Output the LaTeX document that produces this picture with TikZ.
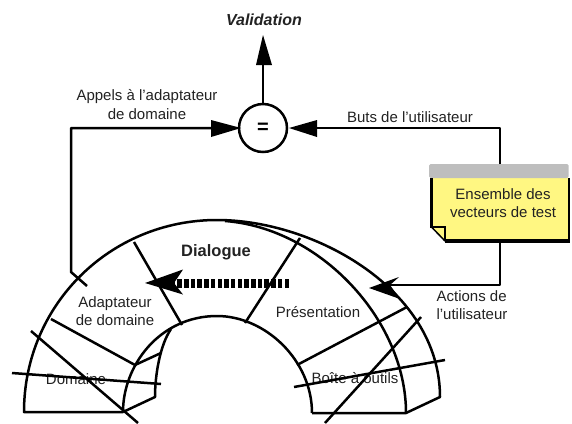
\documentclass[tikz,border=0pt]{standalone}
\usepackage{fontspec}
\setmainfont{Liberation Sans}
\definecolor{noteyellow}{HTML}{FFF782}
\definecolor{notegray}{HTML}{BEBEBE}
\definecolor{txt}{HTML}{222222}
\tikzset{
  lbl/.style={font=\fontsize{15}{18.5}\selectfont,text=txt,align=center,inner sep=0pt},
  wire/.style={line width=2.5pt,line join=round},
  tipfill/.style={fill=black,draw=none}
}
\begin{document}
\begin{tikzpicture}[x=1pt,y=-1pt]
\useasboundingbox (0,0) rectangle (572,423);
% note
\coordinate (wr0) at (500,164);
\coordinate (wr1) at (500,128);
\coordinate (wl1) at (71,128);
\coordinate (wl2) at (71,272);
\coordinate (wl3) at (87,286);
\coordinate (wr4) at (500,241);
\coordinate (wr2) at (500,285);
\coordinate (wr3) at (390,285);
\fill[noteyellow] (431,177) -- (568,177) -- (568,241) -- (445,241) -- (431,227) -- cycle;
\fill[notegray,rounded corners=1.5pt] (429,164) rectangle (568.5,178);
\draw[line width=2.5pt] (431.5,178) -- (431.5,227) -- (445,227) -- (445,241);
\draw[line width=1.5pt] (431.5,227) -- (445,241);
\draw[line width=4pt] (445,241) -- (570,241);
\draw[line width=1.5pt] (569,178) -- (569,241);
\node[lbl] (note) at (503,203) {Ensemble des\\vecteurs de test};
% circle
\node[circle,draw,line width=2.5pt,minimum size=48pt,inner sep=0pt,font=\bfseries\fontsize{20}{20}\selectfont] (eq) at (263,128) {=};
\node[lbl,font=\bfseries\itshape\fontsize{16}{18}\selectfont] (val) at (264,20) {Validation};
% wires
\draw[wire] (eq.north) -- (263,60);
\fill[tipfill] (263,35) -- (272,65) -- (256,65) -- cycle;
\draw[wire] (wl3) -- (wl2) -- (wl1) -- (215,128);
\fill[tipfill] (241,128) -- (211,120) -- (211,137) -- cycle;
\draw[wire] (wr0) -- (wr1) -- (315,128);
\fill[tipfill] (289,128) -- (317,120) -- (317,137) -- cycle;
\draw[wire] (wr4) -- (wr2) -- (wr3);
\fill[tipfill] (369,288) -- (399,277) -- (390,285) -- (400,299) -- cycle;
% labels
\node[lbl] (l1) at (147,104.5) {Appels à l’adaptateur\\de domaine};
\node[lbl] (l2) at (410,117) {Buts de l’utilisateur};
\node[lbl,align=left] (l3) at (472,305) {Actions de\\l’utilisateur};
\node[lbl] (l4) at (115,311) {Adaptateur\\de domaine};
\node[lbl] (l5) at (318,312) {Présentation};
\node[lbl] (l6) at (76,379) {Domaine};
\node[lbl] (l7) at (355,378) {Boîte à outils};
\node[lbl,font=\bfseries\fontsize{16.5}{18}\selectfont] (l8) at (216,252) {Dialogue};
% arcs
\draw[wire] (123,412) -- (24,412) .. controls (24,305) and (110,220) .. (217,220)
  .. controls (315,220) and (440,290) .. (440,397) -- (406,413) -- (312,413);
\draw[wire] (225,221) .. controls (320,228) and (406,320) .. (406,413);
\draw[wire] (123,412) .. controls (123,365) and (160,316) .. (217,316)
  .. controls (265,316) and (312,360) .. (312,413);
\draw[wire] (171,329) .. controls (160,345) and (155,375) .. (155,397) -- (123,412);
\draw[wire] (135,365) -- (161,353);
% radial lines
\draw[wire] (134,242) -- (182,325);
\draw[wire] (245,323) -- (300,238);
\draw[wire] (51,319) -- (135,365);
\draw[wire] (31,331) -- (138,423);
\draw[wire] (12,373) -- (161,384);
\draw[wire] (297,365) -- (407,307);
\draw[wire] (421,317) -- (325,423);
\draw[wire] (294,387) -- (445,360);
% dialog arrow
\draw[line width=8.5pt,dash pattern=on 4.5pt off 2.2pt] (289,283.5) -- (172,283.5);
\fill[tipfill] (145,283) -- (183,269.5) -- (174,283) -- (183,294.5) -- cycle;
\end{tikzpicture}
\end{document}
